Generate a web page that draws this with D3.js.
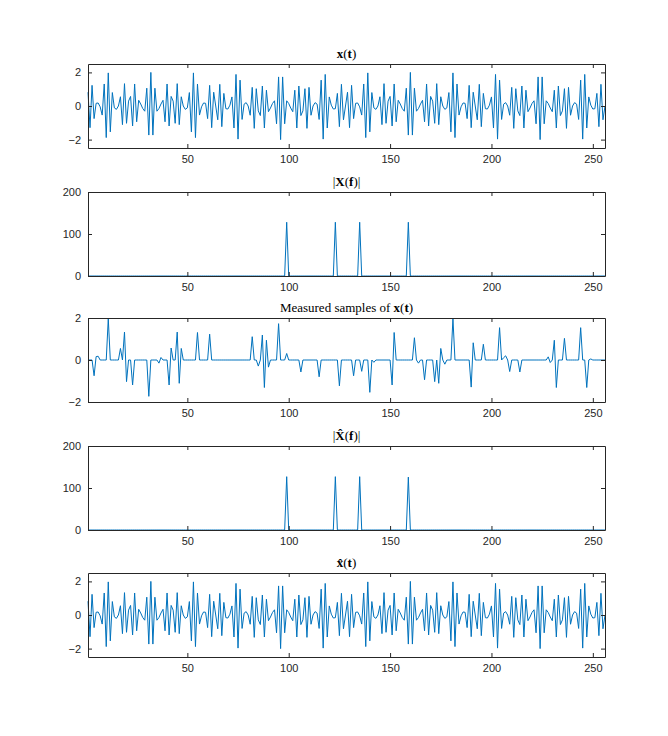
<!DOCTYPE html>
<html>
<head>
<meta charset="utf-8">
<script src="https://cdn.jsdelivr.net/npm/d3@7"></script>
<style>
  body { margin: 0; background: #fff; }
  text { font-family: "Liberation Sans", Arial, sans-serif; }
</style>
</head>
<body>
<svg id="fig" width="668" height="736"></svg>
<script>
// signal x(t), t = 1..256
var signal = [
  .82,-1.29,1.23,-.75,.16,.18,-.05,-.54,1.31,-1.88,1.97,-1.54,.80,-.11,-.20,0,.55,-1.11,1.33,-1.03,.29,.57,-1.19,1.31,-.94,.34,.12,-.15,-.31,1.06,-1.73,2,
  -1.73,1.06,-.31,-.15,.12,.34,-.94,1.31,-1.19,.57,.29,-1.03,1.33,-1.11,.55,0,-.20,-.11,.80,-1.54,1.97,-1.88,1.31,-.54,-.05,.18,.16,-.75,1.23,-1.29,.82,0,
  -.82,1.29,-1.23,.75,-.16,-.18,.05,.54,-1.31,1.88,-1.97,1.54,-.80,.11,.20,0,-.55,1.11,-1.33,1.03,-.29,-.57,1.19,-1.31,.94,-.34,-.12,.15,.31,-1.06,1.73,-2,
  1.73,-1.06,.31,.15,-.12,-.34,.94,-1.31,1.19,-.57,-.29,1.03,-1.33,1.11,-.55,0,.20,.11,-.80,1.54,-1.97,1.88,-1.31,.54,.05,-.18,-.16,.75,-1.23,1.29,-.82,0,
  .82,-1.29,1.23,-.75,.16,.18,-.05,-.54,1.31,-1.88,1.97,-1.54,.80,-.11,-.20,0,.55,-1.11,1.33,-1.03,.29,.57,-1.19,1.31,-.94,.34,.12,-.15,-.31,1.06,-1.73,2,
  -1.73,1.06,-.31,-.15,.12,.34,-.94,1.31,-1.19,.57,.29,-1.03,1.33,-1.11,.55,0,-.20,-.11,.80,-1.54,1.97,-1.88,1.31,-.54,-.05,.18,.16,-.75,1.23,-1.29,.82,0,
  -.82,1.29,-1.23,.75,-.16,-.18,.05,.54,-1.31,1.88,-1.97,1.54,-.80,.11,.20,0,-.55,1.11,-1.33,1.03,-.29,-.57,1.19,-1.31,.94,-.34,-.12,.15,.31,-1.06,1.73,-2,
  1.73,-1.06,.31,.15,-.12,-.34,.94,-1.31,1.19,-.57,-.29,1.03,-1.33,1.11,-.55,0,.20,.11,-.80,1.54,-1.97,1.88,-1.31,.54,.05,-.18,-.16,.75,-1.23,1.29,-.82,0
];
// reconstruction looks the same as the original
var recon = signal.slice();

// measured samples (index, value); all other samples are 0
var measuredIdx = [4,5,6,11,17,19,20,23,31,36,37,41,42,45,46,47,55,61,82,85,87,88,89,90,95,99,106,115,125,
  132,136,140,142,151,152,162,164,167,172,174,175,177,181,190,191,196,204,206,207,209,214,228,229,231,232,236,244,247,249];
var measuredVal = [-.75,.16,.18,1.97,.55,1.33,-1.03,-1.19,-1.73,-.15,.12,-1.19,.57,1.33,-1.11,.55,1.31,1.23,1.11,-.29,1.19,-1.31,.94,-.34,1.73,.31,-.57,-.80,-1.23,
  -.75,-.54,-1.54,-.11,-1.19,1.31,1.06,-.15,-.94,-1.03,-1.11,.55,-.20,1.97,-1.29,.82,.75,1.54,.11,.20,-.55,-.57,.15,-.12,.94,-1.31,1.03,1.54,-1.31,.05];

// spectrum peaks (bin, magnitude); other bins 0
var specBins = [99,123,135,159];
var specMag = [128,128,128,128];
var reconMag = [127,127,127,126];

var xTicks = [50,100,150,200,250];

function expand(idx, val) {
  var out = new Array(256).fill(0);
  idx.forEach(function(k, i) { out[k - 1] = val[i]; });
  return out;
}

var panels = [
  {title: '<tspan font-weight="bold">x</tspan>(<tspan font-weight="bold">t</tspan>)', data: signal, dom: [-2.5, 2.5], ticks: [-2,0,2], top: 64},
  {title: '|<tspan font-weight="bold">X</tspan>(<tspan font-weight="bold">f</tspan>)|', data: expand(specBins, specMag), dom: [0, 200], ticks: [0,100,200], top: 192},
  {title: 'Measured samples of <tspan font-weight="bold">x</tspan>(<tspan font-weight="bold">t</tspan>)', data: expand(measuredIdx, measuredVal), dom: [-2, 2], ticks: [-2,0,2], top: 318},
  {title: '|<tspan font-weight="bold">X̂</tspan>(<tspan font-weight="bold">f</tspan>)|', data: expand(specBins, reconMag), dom: [0, 200], ticks: [0,100,200], top: 446},
  {title: '<tspan font-weight="bold">x̂</tspan>(<tspan font-weight="bold">t</tspan>)', data: recon, dom: [-2.5, 2.5], ticks: [-2,0,2], top: 573}
];

var svg = d3.select("#fig");
var left = 88, right = 605, h = 84;
var x = d3.scaleLinear().domain([1, 256]).range([left, right]);

panels.forEach(function(p) {
  var y = d3.scaleLinear().domain(p.dom).range([p.top + h, p.top]);
  var g = svg.append("g");

  var line = d3.line().x(function(d, i) { return x(i + 1); }).y(function(d) { return y(d); });
  g.append("path").datum(p.data)
    .attr("d", line).attr("fill", "none")
    .attr("stroke", "#0072BD").attr("stroke-width", 1);

  var xa = g.append("g").attr("transform", "translate(0," + (p.top + h) + ")")
    .call(d3.axisBottom(x).tickValues(xTicks).tickFormat(d3.format("d")).tickSizeInner(-4).tickSizeOuter(0).tickPadding(7));
  var xt = g.append("g").attr("transform", "translate(0," + p.top + ")")
    .call(d3.axisTop(x).tickValues(xTicks).tickSizeInner(-4).tickSizeOuter(0).tickFormat(""));
  var ya = g.append("g").attr("transform", "translate(" + left + ",0)")
    .call(d3.axisLeft(y).tickValues(p.ticks).tickFormat(d3.format("d")).tickSizeInner(-4).tickSizeOuter(0).tickPadding(7));
  var yr = g.append("g").attr("transform", "translate(" + right + ",0)")
    .call(d3.axisRight(y).tickValues(p.ticks).tickSizeInner(-4).tickSizeOuter(0).tickFormat(""));
  [xa, xt, ya, yr].forEach(function(a) {
    a.selectAll("line,path").attr("stroke", "#262626");
    a.selectAll("text").attr("fill", "#262626").style("font-size", "11px");
  });

  g.append("text").attr("x", (left + right) / 2).attr("y", p.top - 6)
    .attr("text-anchor", "middle")
    .style("font-family", "'Liberation Serif', 'DejaVu Serif', serif")
    .style("font-size", "13px").attr("fill", "#000")
    .html(p.title);
});
</script>
</body>
</html>
